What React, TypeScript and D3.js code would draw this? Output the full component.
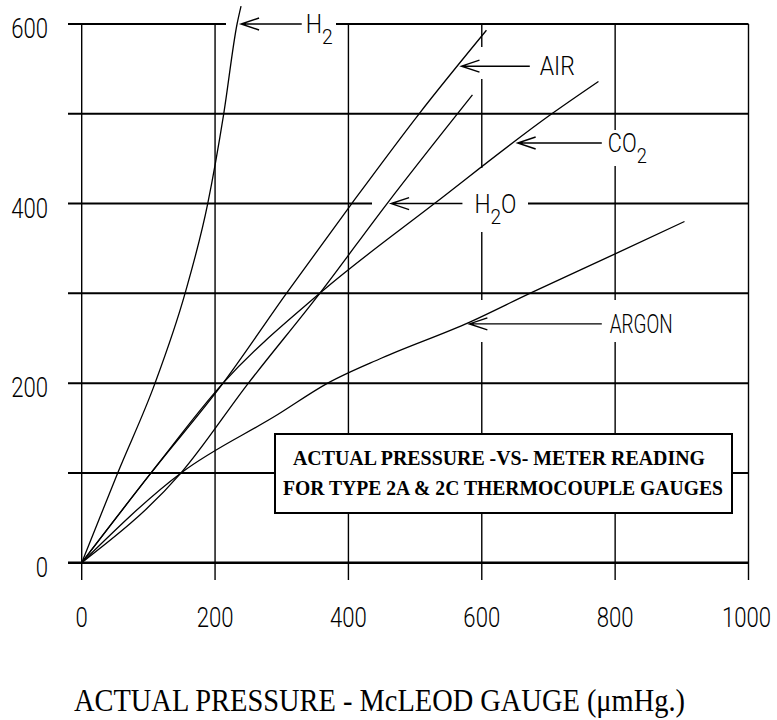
import * as d3 from 'd3';

// McLeod gauge reading (x) vs thermocouple meter reading (y)
const xTicks = [0, 200, 400, 600, 800, 1000];
const yTicks = [0, 100, 200, 300, 400, 500, 600];

const h2: [number, number][] = [[0, 0], [54, 100], [110, 200], [155, 300], [189, 400], [213, 500], [233, 600], [239, 620]];
const air: [number, number][] = [[0, 0], [104, 100], [212, 200], [307, 300], [405, 400], [506, 500], [607, 593]];
const co2: [number, number][] = [[0, 0], [104, 100], [212, 200], [357, 300], [529, 400], [705, 500], [775, 536]];
const h2o: [number, number][] = [[0, 0], [149, 100], [250, 200], [357, 300], [458, 400], [586, 521]];
const argon: [number, number][] = [[0, 0], [149, 100], [294, 165], [369, 200], [450, 228], [582, 268], [672, 300], [800, 344], [904, 380]];

const gasNames = ['H2', 'AIR', 'H2O', 'CO2', 'ARGON'];
const gasData = [h2, air, h2o, co2, argon];

// where each label's arrow sits (meter reading) and where its shaft ends (McLeod units)
const labelAtY = [600, 553, 400, 467.5, 266];
const labelEndX = [330, 672, 571, 780, 780];

const boxLines = ['ACTUAL PRESSURE -VS- METER READING', 'FOR TYPE 2A & 2C THERMOCOUPLE GAUGES'];
const xTitle = 'ACTUAL PRESSURE - McLEOD GAUGE (\u03bcmHg.)';

// label layout (pixels): text offset from shaft end, text width, knockout box
const labelLayout = [
  { main: 'H', sub: '2', tail: '', dx: 4, len: 27, knock: [226, 6, 110, 38] },
  { main: 'AIR', sub: '', tail: '', dx: 10, len: 35, knock: [455, 47, 130, 32] },
  { main: 'H', sub: '2', tail: 'O', dx: 12, len: 42, knock: [372, 168, 156, 64] },
  { main: 'CO', sub: '2', tail: '', dx: 6, len: 39, knock: [505, 130, 155, 36] },
  { main: 'ARGON', sub: '', tail: '', dx: 8, len: 63, knock: [460, 300, 220, 42] },
];

const sans = 'Roboto, Lato, "DejaVu Sans", sans-serif';
const serif = '"Liberation Serif", "Times New Roman", serif';

function xAt(pts: [number, number][], yv: number) {
  for (let i = 1; i < pts.length; i++) {
    const [x0, y0] = pts[i - 1];
    const [x1, y1] = pts[i];
    if (yv >= y0 && yv <= y1) return x0 + ((yv - y0) / (y1 - y0)) * (x1 - x0);
  }
  return pts[pts.length - 1][0];
}

export default function App() {
  const x = d3.scaleLinear().domain([0, 1000]).range([81.7, 748.5]);
  const y = d3.scaleLinear().domain([0, 600]).range([562.7, 24]);
  const line = d3.line<[number, number]>()
    .x(d => x(d[0]))
    .y(d => y(d[1]))
    .curve(d3.curveMonotoneX);

  // plotter-style narrow digits
  const tickScale = 0.82;

  return (
    <svg width={777} height={720} style={{ position: 'absolute', left: 0, top: 0, background: '#fff' }}>
      <rect width={777} height={720} fill="#fff" />
      {/* grid */}
      {yTicks.map(t => (
        <line key={'h' + t} x1={68} x2={x(1000)} y1={y(t)} y2={y(t)} stroke="#000" strokeWidth={t === 0 ? 2.6 : 2} />
      ))}
      {xTicks.map(t => (
        <line key={'v' + t} x1={x(t)} x2={x(t)} y1={y(600)} y2={580} stroke="#000" strokeWidth={1.4} />
      ))}
      {/* tick labels */}
      {yTicks.filter(t => t % 200 === 0).map(t => (
        <g key={'yl' + t} transform={`translate(48,${y(t) + 14}) scale(${tickScale},1)`}>
          <text textAnchor="end" fontFamily={sans} fontWeight={300} fontSize={27}>{t}</text>
        </g>
      ))}
      {xTicks.map(t => (
        <g key={'xl' + t} transform={`translate(${t === 1000 ? x(t) - 2 : x(t)},627) scale(${tickScale},1)`}>
          <text textAnchor="middle" fontFamily={sans} fontWeight={300} fontSize={27}>{t}</text>
        </g>
      ))}
      {/* label knockouts */}
      {labelLayout.map((l, i) => (
        <rect key={'k' + i} x={l.knock[0]} y={l.knock[1]} width={l.knock[2]} height={l.knock[3]} fill="#fff" />
      ))}
      {/* curves */}
      {gasData.map((d, i) => (
        <path key={gasNames[i]} d={line(d) ?? ''} fill="none" stroke="#000" strokeWidth={1.3} />
      ))}
      {/* arrows and labels */}
      {gasNames.map((g, i) => {
        const ty = y(labelAtY[i]);
        const tx = x(xAt(gasData[i], labelAtY[i])) + 4;
        const ex = x(labelEndX[i]);
        const l = labelLayout[i];
        return (
          <g key={'lab' + g}>
            <path d={`M${ex},${ty}H${tx}M${tx + 18},${ty - 6}L${tx},${ty}L${tx + 18},${ty + 6}`}
              fill="none" stroke="#000" strokeWidth={1.4} />
            <text x={ex + l.dx} y={ty + 9} fontFamily={sans} fontWeight={300} fontSize={25}
              textLength={l.len} lengthAdjust="spacingAndGlyphs">
              {l.main}
              {l.sub && <tspan fontSize={21} dy={11}>{l.sub}</tspan>}
              {l.tail && <tspan dy={-11}>{l.tail}</tspan>}
            </text>
          </g>
        );
      })}
      {/* caption box */}
      <rect x={275} y={434} width={457} height={79} fill="#fff" stroke="#000" strokeWidth={2} />
      <text x={293} y={465} fontFamily={serif} fontWeight="bold" fontSize={20} textLength={412}
        lengthAdjust="spacingAndGlyphs">{boxLines[0]}</text>
      <text x={283} y={495} fontFamily={serif} fontWeight="bold" fontSize={20} textLength={440}
        lengthAdjust="spacingAndGlyphs">{boxLines[1]}</text>
      {/* axis title */}
      <text x={74} y={711} fontFamily={serif} fontSize={32} textLength={611}
        lengthAdjust="spacingAndGlyphs">{xTitle}</text>
    </svg>
  );
}
